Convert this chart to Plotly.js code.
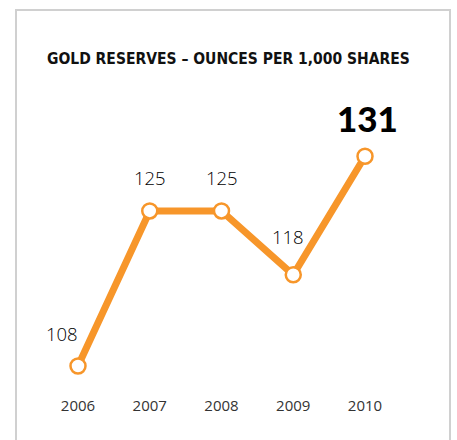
<!DOCTYPE html>
<html>
<head>
<meta charset="utf-8">
<script src="https://cdn.plot.ly/plotly-3.0.1.min.js"></script>
<style>
html,body{margin:0;padding:0;background:#fff;}
#frame{position:absolute;left:15px;top:9px;width:436px;height:440px;border:2px solid #d0d0d0;box-sizing:border-box;}
#chart{position:absolute;left:0;top:0;width:457px;height:440px;}
</style>
</head>
<body>
<div id="frame"></div>
<div id="chart"></div>
<script>
const years = ["2006", "2007", "2008", "2009", "2010"];
const ounces = [108, 125, 125, 118, 131];
const labelDx = [-16, 0, 0, -5, 2];
const labelDy = [33, 33, 33, 38, 38];

const orange = "#F7962A";
const trace = {
  x: years, y: ounces, type: "scatter", mode: "lines+markers",
  line: {color: orange, width: 7},
  marker: {size: 15, color: "#fff", line: {color: orange, width: 2.5}},
  hoverinfo: "none", cliponaxis: false
};

const annotations = years.map((yr, i) => {
  const last = i === years.length - 1;
  return {
    x: i, y: ounces[i], xref: "x", yref: "y", text: String(ounces[i]),
    showarrow: false, xshift: labelDx[i], yshift: labelDy[i],
    font: last ? {family: "Lato", size: 35, color: "#000", weight: 900}
               : {family: "Open Sans", size: 18.5, color: "#000", weight: 300}
  };
});
annotations.push({
  xref: "paper", yref: "paper", x: 0.5, y: 1, yshift: -48, text: "GOLD RESERVES – OUNCES PER 1,000 SHARES",
  showarrow: false, font: {family: "DejaVu Sans Condensed", size: 15.5, color: "#111", weight: 700}
});

const layout = {
  width: 457, height: 440,
  margin: {l: 0, r: 0, t: 0, b: 45},
  paper_bgcolor: "rgba(0,0,0,0)", plot_bgcolor: "rgba(0,0,0,0)",
  showlegend: false,
  xaxis: {type: "category", range: [-1.087, 5.282], showgrid: false, zeroline: false, showline: false,
    ticks: "", tickfont: {family: "Open Sans", size: 15, color: "#333"}, fixedrange: true},
  yaxis: {range: [104.82, 148.13], visible: false, fixedrange: true},
  annotations: annotations
};
Plotly.newPlot("chart", [trace], layout, {displayModeBar: false, staticPlot: true});
</script>
</body>
</html>
